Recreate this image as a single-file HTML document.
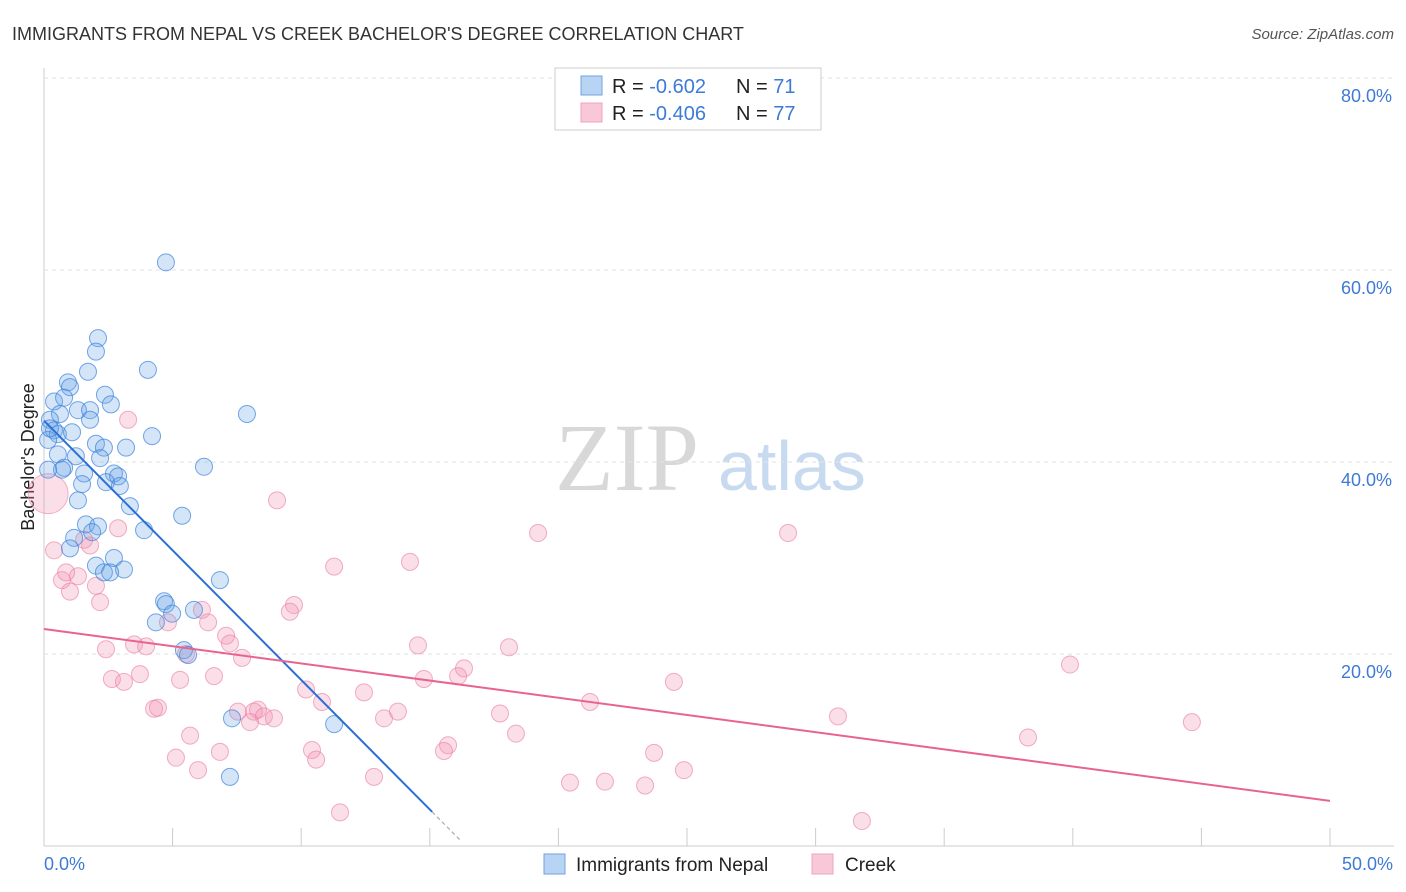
<!DOCTYPE html>
<html><head><meta charset="utf-8"><style>
body{margin:0;background:#fff;font-family:"Liberation Sans",sans-serif;}
</style></head><body>
<svg id="chart" width="1406" height="892" style="display:block">
<text x="12" y="40" font-size="18" fill="#333">IMMIGRANTS FROM NEPAL VS CREEK BACHELOR'S DEGREE CORRELATION CHART</text>
<text x="1394" y="39" font-size="15" fill="#555" font-style="italic" text-anchor="end">Source: ZipAtlas.com</text>
<text x="555" y="490" font-size="96" fill="#d8d8d8" font-family="Liberation Serif,serif">ZIP</text>
<text x="718" y="490" font-size="70" fill="#c8daf0">atlas</text>
<text transform="translate(34,457) rotate(-90)" font-size="18" fill="#222" text-anchor="middle">Bachelor's Degree</text>
<g id="grid"></g><g id="pts"></g><g id="lines"></g>
<g>
<rect x="555" y="68" width="266" height="62" fill="#fff" stroke="#ccc"/>
<rect x="581" y="76" width="21" height="19" fill="#b9d3f3" stroke="#6fa3e0"/>
<rect x="581" y="103" width="21" height="19" fill="#f9c8d8" stroke="#f0a0bc"/>
<text x="612" y="93" font-size="20" fill="#222">R = <tspan fill="#3d7bd6">-0.602</tspan></text>
<text x="736" y="93" font-size="20" fill="#222">N = <tspan fill="#3d7bd6">71</tspan></text>
<text x="612" y="120" font-size="20" fill="#222">R = <tspan fill="#3d7bd6">-0.406</tspan></text>
<text x="736" y="120" font-size="20" fill="#222">N = <tspan fill="#3d7bd6">77</tspan></text>
</g>
<g>
<rect x="544" y="854" width="21" height="20" fill="#b9d3f3" stroke="#6fa3e0"/>
<text x="576" y="871" font-size="19" fill="#222">Immigrants from Nepal</text>
<rect x="812" y="854" width="21" height="20" fill="#f9c8d8" stroke="#f0a0bc"/>
<text x="845" y="871" font-size="19" fill="#222">Creek</text>
</g>
</svg>
<script>
const xTicks=[0,5,10,15,20,25,30,35,40,45,50];
const yTicks=[20,40,60,80];
const yTickLabels=["20.0%","40.0%","60.0%","80.0%"];
const nepalX=[4.74,2.10,2.02,4.04,1.71,0.93,1.01,2.37,2.60,0.39,0.78,1.32,1.79,0.62,7.89,0.23,1.79,0.39,0.54,1.09,4.20,0.16,2.02,3.19,2.33,0.54,1.24,2.18,6.22,0.78,0.70,1.56,2.72,2.88,1.48,2.41,2.95,1.32,3.34,5.37,1.63,2.10,3.89,1.17,1.87,1.01,2.72,2.02,3.11,2.33,2.57,6.84,4.67,4.74,5.83,4.98,4.35,5.44,5.60,7.31,11.28,7.23,0.16,0.23];
const nepalY=[60.8,52.9,51.5,49.6,49.4,48.3,47.8,47.0,46.0,46.3,46.7,45.4,45.4,45.0,45.0,44.4,44.4,43.3,42.9,43.1,42.7,42.3,41.9,41.5,41.5,40.8,40.6,40.4,39.5,39.4,39.2,38.8,38.8,38.5,37.7,37.9,37.5,36.0,35.4,34.4,33.5,33.3,32.9,32.1,32.7,31.0,30.0,29.2,28.8,28.5,28.5,27.7,25.5,25.2,24.6,24.2,23.3,20.4,19.9,13.3,12.7,7.2,39.2,43.5];
const creekX=[3.27,9.06,19.21,28.93,0.39,1.79,1.56,2.88,14.23,11.28,0.70,1.32,0.86,1.01,2.18,2.02,9.72,9.56,6.14,6.38,7.08,7.23,4.82,2.41,3.50,3.97,14.54,18.08,16.33,16.10,5.52,7.70,39.89,2.64,3.11,3.73,5.29,6.61,14.77,24.49,10.19,12.44,10.81,21.23,8.32,7.54,8.16,8.55,8.94,13.22,13.76,4.28,4.43,30.87,44.63,17.73,8.01,18.35,5.68,38.26,15.71,15.55,10.42,10.58,6.84,23.72,5.13,5.99,24.88,12.83,20.45,21.81,23.37,11.51,31.80];
const creekY=[44.4,36.0,32.6,32.6,30.8,31.3,31.9,33.1,29.6,29.1,27.7,28.1,28.5,26.5,25.4,27.1,25.1,24.4,24.6,23.3,21.9,21.1,23.3,20.5,21.0,20.8,20.9,20.7,18.5,17.7,20.0,19.6,18.9,17.4,17.1,17.9,17.3,17.7,17.4,17.1,16.3,16.0,15.0,15.0,14.2,14.0,14.0,13.5,13.3,13.3,14.0,14.3,14.4,13.5,12.9,13.8,12.9,11.7,11.5,11.3,10.5,9.9,10.0,9.0,9.8,9.7,9.2,7.9,7.9,7.2,6.6,6.7,6.3,3.5,2.6];
const nepalTrend=[44.3,-2.70,15.09,16.2];
const creekTrend=[22.6,4.7];
const NS="http://www.w3.org/2000/svg";
const X=v=>44+v*25.72, Y=v=>846-v*9.6;
function mk(t,a,p){const e=document.createElementNS(NS,t);for(const k in a)e.setAttribute(k,a[k]);p.appendChild(e);return e;}
const grid=document.getElementById('grid');
mk('line',{x1:44,y1:846,x2:1394,y2:846,stroke:'#ccc'},grid);
mk('line',{x1:44,y1:68,x2:44,y2:846,stroke:'#ccc'},grid);
yTicks.forEach((t,i)=>{
 const l=mk('line',{x1:44,y1:Y(t),x2:1394,y2:Y(t),stroke:'#e2e2e2','stroke-dasharray':'4,4'},grid);
 
 
 const tx=mk('text',{x:1392,y:Y(t)+24,'font-size':18,fill:'#3d7bd6','text-anchor':'end'},grid);
 tx.textContent=yTickLabels[i];
 
 
});
xTicks.forEach(t=>{
 const l=mk('line',{x1:X(t),y1:828,x2:X(t),y2:846,stroke:'#ccc'},grid);
 
 
});
[[0,'0.0%','start',44],[50,'50.0%','end',1393]].forEach(a=>{
 const tx=mk('text',{x:a[3],y:870,'font-size':18,fill:'#3d7bd6','text-anchor':a[2]},grid);
 tx.textContent=a[1];
 
 
});
const pts=document.getElementById('pts');
const big=mk('circle',{cx:X(0.16),cy:Y(36.7),r:20,fill:'rgba(242,150,180,0.3)',stroke:'rgba(235,130,165,0.6)'},pts);


creekX.forEach((x,i)=>{
 const c=mk('circle',{cx:X(x),cy:Y(creekY[i]),r:8.5,fill:'rgba(242,150,180,0.3)',stroke:'rgba(235,130,165,0.65)'},pts);
 
 
});
nepalX.forEach((x,i)=>{
 const c=mk('circle',{cx:X(x),cy:Y(nepalY[i]),r:8.5,fill:'rgba(100,160,230,0.28)',stroke:'rgba(60,130,220,0.7)'},pts);
 
 
});
const lines=document.getElementById('lines');
const [b0,b1,bx1,bx2]=nepalTrend;
const bl=mk('line',{x1:X(0),y1:Y(b0),x2:X(bx1),y2:Y(b0+b1*bx1),stroke:'#2a6fd6','stroke-width':2},lines);


const bd=mk('line',{x1:X(bx1),y1:Y(b0+b1*bx1),x2:X(bx2),y2:Y(b0+b1*bx2),stroke:'#aaa','stroke-width':1.2,'stroke-dasharray':'4,3'},lines);


const pl=mk('line',{x1:X(0),y1:Y(creekTrend[0]),x2:X(50),y2:Y(creekTrend[1]),stroke:'#e8648f','stroke-width':2},lines);


</script>
</body></html>
